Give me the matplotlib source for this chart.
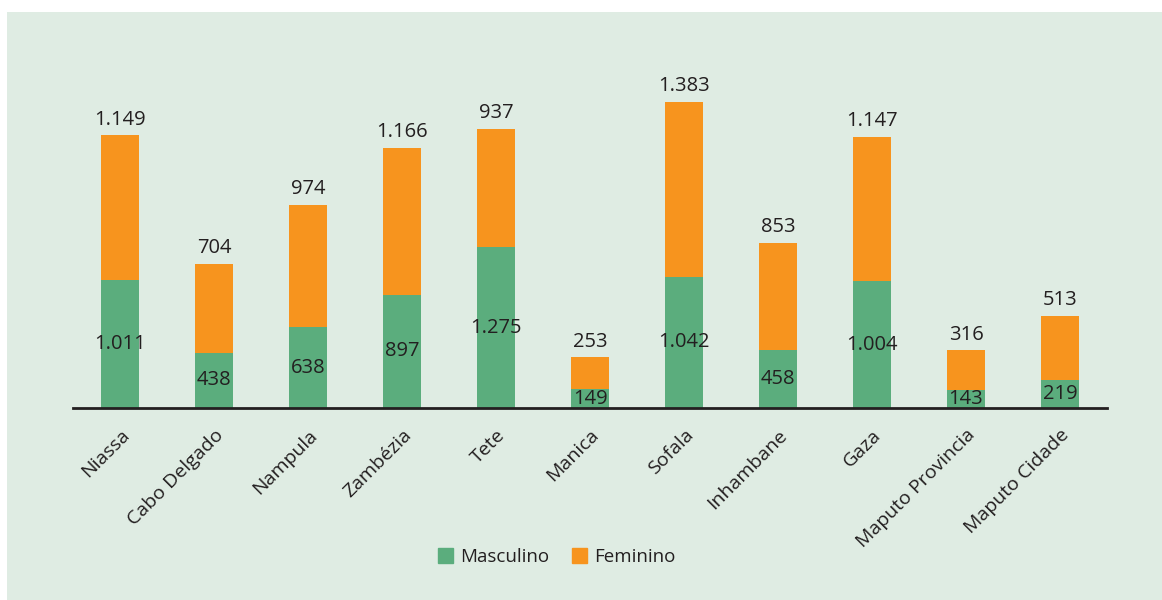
import matplotlib
matplotlib.use('Agg')
import matplotlib.pyplot as plt
from matplotlib.patches import Rectangle, Patch

provincias = ['Niassa', 'Cabo Delgado', 'Nampula', 'Zambézia', 'Tete', 'Manica',
              'Sofala', 'Inhambane', 'Gaza', 'Maputo Provincia', 'Maputo Cidade']
masculino = [1011, 438, 638, 897, 1275, 149, 1042, 458, 1004, 143, 219]
feminino = [1149, 704, 974, 1166, 937, 253, 1383, 853, 1147, 316, 513]

VERDE = '#5BAD7D'
LARANJA = '#F7941E'
FUNDO = '#DFECE3'
TEXTO = '#231F20'

plt.rcParams['font.family'] = ['Open Sans', 'DejaVu Sans']


def fmt(v):
    return f'{v:,}'.replace(',', '.')


fig = plt.figure(figsize=(11.62, 6.0), dpi=100)
fig.patch.set_facecolor('white')
fig.patches.append(Rectangle((7 / 1162, 0), 1 - 7 / 1162, 1 - 12 / 600,
                             transform=fig.transFigure, facecolor=FUNDO,
                             edgecolor='none', zorder=-10))

ax = fig.add_axes([73 / 1162, 192 / 600, 1034 / 1162, 358 / 600])
ax.set_facecolor('none')

x = list(range(len(provincias)))
ax.bar(x, masculino, width=0.4, color=VERDE, label='Masculino')
ax.bar(x, feminino, width=0.4, bottom=masculino, color=LARANJA, label='Feminino')

for i in x:
    m = masculino[i]
    f = feminino[i]
    ax.text(i, m / 2, fmt(m), ha='center', va='center', fontsize=14.5, color=TEXTO)
    ax.annotate(fmt(f), (i, m + f), xytext=(0, 4), textcoords='offset points',
                ha='center', va='bottom', fontsize=14.5, color=TEXTO)

ax.set_xlim(-0.5, len(provincias) - 0.5)
ax.set_ylim(0, 2837)
ax.set_yticks([])
for s in ['top', 'right', 'left']:
    ax.spines[s].set_visible(False)
ax.spines['bottom'].set_color(TEXTO)
ax.spines['bottom'].set_linewidth(2)

ax.set_xticks(x)
ax.set_xticklabels(provincias, rotation=45, ha='right', va='top',
                   rotation_mode='anchor', fontsize=14, color=TEXTO)
ax.tick_params(axis='x', length=0, pad=13)

handles = [Patch(color=VERDE, label='Masculino'), Patch(color=LARANJA, label='Feminino')]
fig.legend(handles=handles, loc='center', bbox_to_anchor=(557 / 1162, 1 - 557 / 600),
           ncol=2, frameon=False, fontsize=13.5, handlelength=0.8, handleheight=0.8,
           handletextpad=0.4, columnspacing=1.2, labelcolor=TEXTO)

fig.savefig('out.png', dpi=100, facecolor=fig.get_facecolor())
plt.close('all')
